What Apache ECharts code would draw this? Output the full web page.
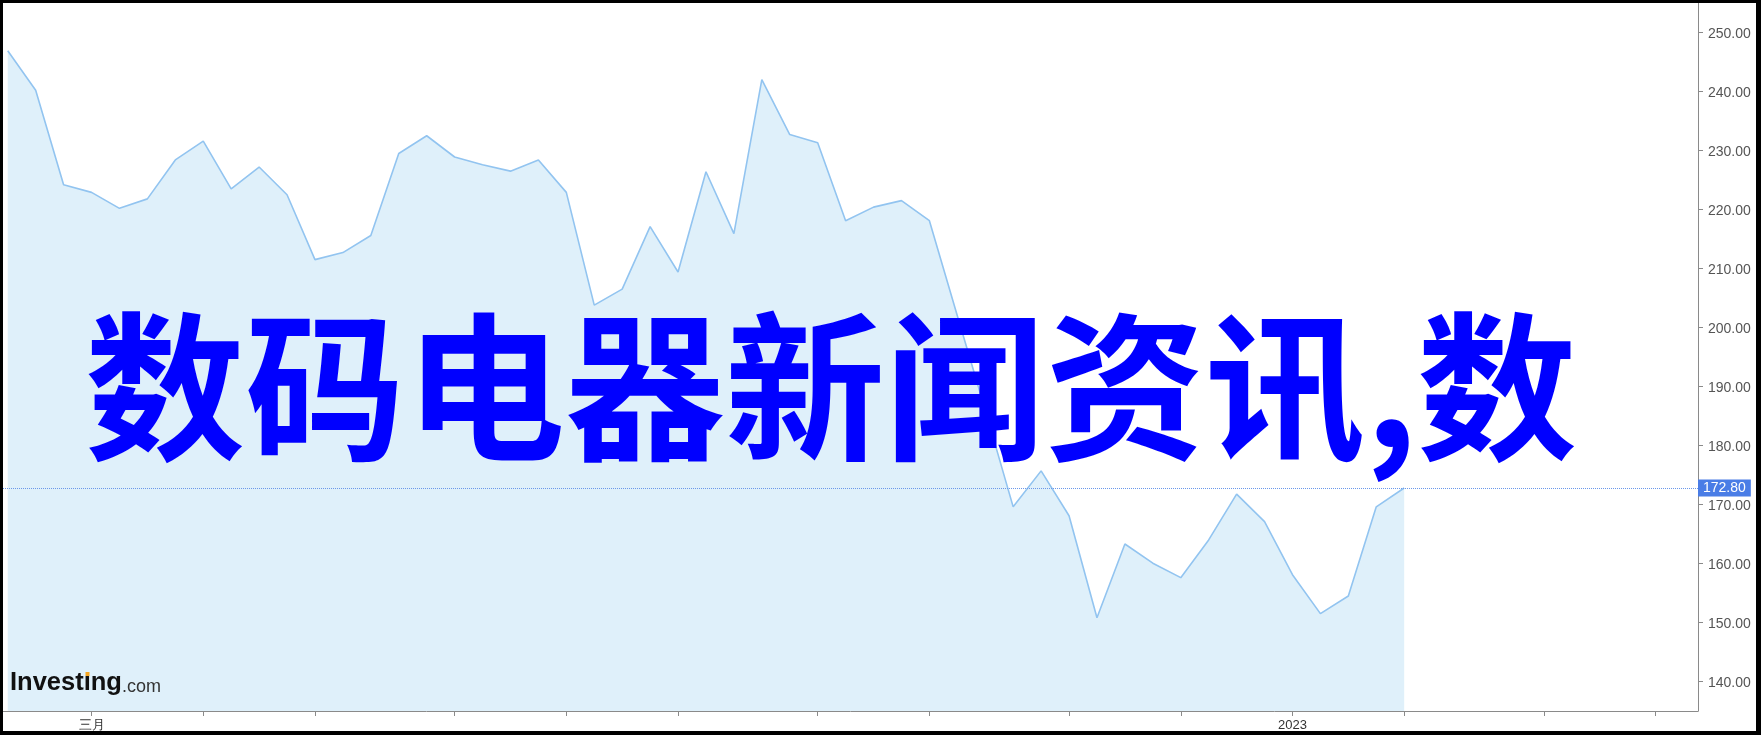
<!DOCTYPE html>
<html>
<head>
<meta charset="utf-8">
<script src="https://cdn.jsdelivr.net/npm/echarts@6/dist/echarts.min.js"></script>
<style>
  html, body { margin: 0; padding: 0; background: #000; }
  #wrap { width: 1761px; height: 735px; box-sizing: border-box; border-style: solid; border-color: #000;
          border-width: 3px 5px 4px 3px; background: #fff; }
  #chart { width: 1753px; height: 728px; }
</style>
</head>
<body>
<div id="wrap"><div id="chart"></div></div>
<script>
// Weekly closing values (week index 0..50)
const values = [
  246.9, 240.2, 224.2, 222.9, 220.2, 221.8, 228.4, 231.6, 223.5, 227.2,
  222.5, 211.5, 212.7, 215.6, 229.5, 232.5, 228.9, 227.6, 226.5, 228.4,
  222.9, 203.8, 206.5, 217.1, 209.4, 226.4, 215.9, 242.0, 232.7, 231.3,
  218.1, 220.4, 221.5, 218.1, 202.0, 186.0, 169.6, 175.7, 168.1, 150.8,
  163.3, 160.05, 157.6, 164.0, 171.75, 167.1, 158.1, 151.5, 154.5, 169.6,
  172.8
];
// Month tick positions (week index)
const tickWeeks = [3, 7, 11, 16, 20, 24, 29, 33, 38, 42, 46, 50, 55, 59];
// Labelled ticks
const labelWeeks = [3, 46];
const labelTexts = ['三月', '2023'];
// Price axis ticks
const yTicks = [140, 150, 160, 170, 180, 190, 200, 210, 220, 230, 240, 250];
const overlayText = '数码电器新闻资讯,数';
const lastPrice = values[values.length - 1];

const chart = echarts.init(document.getElementById('chart'), null, { renderer: 'canvas' });
const axisColor = '#8a8a8a';
chart.setOption({
  animation: false,
  grid: { left: 0, right: 58, top: 0, bottom: 20, containLabel: false, outerBoundsMode: 'none' },
  xAxis: {
    type: 'value', min: -0.17, max: 60.52,
    axisLine: { show: true, onZero: false, lineStyle: { color: axisColor, width: 1 } },
    axisTick: { show: true, length: 5, customValues: tickWeeks, lineStyle: { color: axisColor } },
    axisLabel: {
      show: true, customValues: labelWeeks, margin: 8,
      fontFamily: 'Liberation Sans, Arial, sans-serif', fontSize: 13, color: '#333',
      formatter: function (v) { const i = labelWeeks.indexOf(Math.round(v)); return i >= 0 ? labelTexts[i] : ''; }
    },
    splitLine: { show: false }
  },
  yAxis: {
    type: 'value', position: 'right', min: 135, max: 255,
    axisLine: { show: true, onZero: false, lineStyle: { color: axisColor, width: 1 } },
    axisTick: { show: true, length: 5, customValues: yTicks, lineStyle: { color: axisColor } },
    axisLabel: {
      show: true, customValues: yTicks, margin: 10, verticalAlign: 'top', lineHeight: 4,
      fontFamily: 'Liberation Sans, Arial, sans-serif', fontSize: 14, color: '#555',
      formatter: function (v) { return v.toFixed(2); }
    },
    splitLine: { show: false }
  },
  series: [{
    type: 'line',
    data: values.map(function (v, i) { return [i, v]; }),
    showSymbol: false,
    lineStyle: { color: '#92c4f0', width: 1.6 },
    areaStyle: { color: '#dff0fa', opacity: 1, origin: 'start' },
    markLine: {
      silent: true,
      symbol: ['none', 'none'],
      data: [{ yAxis: lastPrice }],
      lineStyle: { type: 'dotted', color: '#6b98ea', width: 1 },
      label: {
        show: true, position: 'end', distance: 0,
        formatter: lastPrice.toFixed(2),
        backgroundColor: '#4a7de6', color: '#fff',
        fontFamily: 'Liberation Sans, Arial, sans-serif', fontSize: 14,
        lineHeight: 15, padding: [1, 5, 1, 5]
      }
    }
  }],
  graphic: [
    {
      type: 'text', z: 100, x: 82, y: 384,
      style: {
        text: overlayText, fill: '#0000ff',
        fontFamily: '"Noto Sans CJK SC"', fontWeight: 'bold', fontSize: 160,
        verticalAlign: 'middle', align: 'left'
      }
    },
    {
      type: 'text', z: 100, x: 7, y: 693,
      style: {
        text: '{a|Investıng}{b|.com}',
        verticalAlign: 'bottom',
        rich: {
          a: { fontFamily: 'Liberation Sans, Arial, sans-serif', fontWeight: 'bold', fontSize: 25.5, fill: '#111', verticalAlign: 'bottom' },
          b: { fontFamily: 'Liberation Sans, Arial, sans-serif', fontSize: 18, fill: '#333', verticalAlign: 'bottom' }
        }
      }
    },
    {
      type: 'rect', z: 101, x: 82.5, y: 669, shape: { width: 4, height: 4 },
      style: { fill: '#f5a623' }
    }
  ]
});
</script>
</body>
</html>
